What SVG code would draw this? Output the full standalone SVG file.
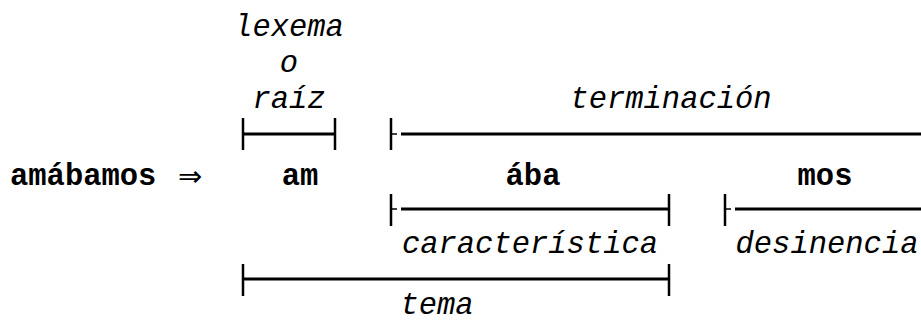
<svg xmlns="http://www.w3.org/2000/svg" width="921" height="322" viewBox="0 0 921 322">
<style>
.lbl{font-family:"Liberation Mono","Courier New",monospace;font-style:italic;font-size:30.5px;fill:#000}
.wd{font-family:"Liberation Mono","Courier New",monospace;font-weight:bold;font-size:30.5px;fill:#000}
.sym{font-family:"DejaVu Sans",sans-serif;font-size:29px;fill:#000}
.ln{stroke:#000;stroke-width:3;fill:none}
.tk{stroke:#000;stroke-width:2.5;fill:none}
.st{stroke:#000;stroke-width:1.5;fill:none}
</style>
<rect width="921" height="322" fill="#fff"/>
<g id="connectors">
  <g id="br-lexema"><path class="tk" d="M243,118V150M335,118V150"/><path class="ln" d="M243,134H335"/></g>
  <g id="br-terminacion"><path class="tk" d="M391,118V150"/><path class="st" d="M391,134H397"/><path class="ln" d="M401,134H921"/></g>
  <g id="br-caracteristica"><path class="tk" d="M391,194V226M669,194V226"/><path class="st" d="M391,209H397"/><path class="ln" d="M401,209H669"/></g>
  <g id="br-desinencia"><path class="tk" d="M725,194V226"/><path class="st" d="M725,209H731"/><path class="ln" d="M735,209H921"/></g>
  <g id="br-tema"><path class="tk" d="M243,264V296M669,264V296"/><path class="ln" d="M243,279H669"/></g>
</g>
<g id="lexema"><text class="lbl" x="289" y="36" text-anchor="middle">lexema</text><text class="lbl" x="289" y="72" text-anchor="middle">o</text><text class="lbl" x="289" y="108" text-anchor="middle">raíz</text></g>
<g id="terminacion"><text class="lbl" x="671" y="108" text-anchor="middle">terminación</text></g>
<g id="amabamos"><text class="wd" x="10" y="185">amábamos</text><text class="sym" x="178" y="186">⇒</text></g>
<g id="am"><text class="wd" x="300" y="185" text-anchor="middle">am</text></g>
<g id="aba"><text class="wd" x="533" y="185" text-anchor="middle">ába</text></g>
<g id="mos"><text class="wd" x="825" y="185" text-anchor="middle">mos</text></g>
<g id="caracteristica"><text class="lbl" x="530" y="253" text-anchor="middle">característica</text></g>
<g id="desinencia"><text class="lbl" x="827" y="253" text-anchor="middle">desinencia</text></g>
<g id="tema"><text class="lbl" x="437" y="314" text-anchor="middle">tema</text></g>
</svg>
